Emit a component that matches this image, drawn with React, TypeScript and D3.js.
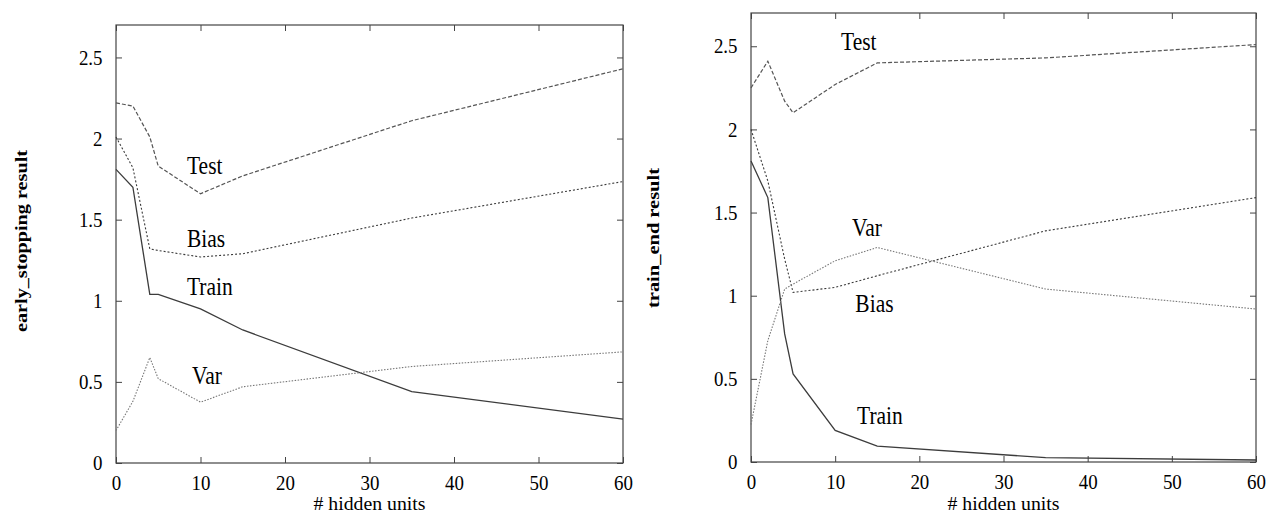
import { useEffect, useRef } from 'react'
import * as d3 from 'd3'

// x values shared by every curve
const hiddenUnits = [0, 2, 4, 5, 10, 15, 35, 60]
const xTicks = [0, 10, 20, 30, 40, 50, 60]
const yTicks = [0, 0.5, 1, 1.5, 2, 2.5]
const seriesNames = ['Test', 'Bias', 'Train', 'Var']

// left panel: early stopping
const earlyTest = [2.22, 2.2, 2.01, 1.83, 1.66, 1.77, 2.11, 2.43]
const earlyBias = [2.01, 1.82, 1.32, 1.31, 1.27, 1.29, 1.51, 1.735]
const earlyTrain = [1.81, 1.7, 1.04, 1.04, 0.95, 0.82, 0.44, 0.27]
const earlyVar = [0.2, 0.38, 0.65, 0.52, 0.375, 0.47, 0.595, 0.685]

// right panel: end of training
const trainEndTest = [2.25, 2.41, 2.17, 2.1, 2.27, 2.4, 2.43, 2.51]
const trainEndBias = [2.0, 1.69, 1.22, 1.02, 1.05, 1.12, 1.39, 1.59]
const trainEndTrain = [1.81, 1.59, 0.77, 0.53, 0.19, 0.096, 0.026, 0.012]
const trainEndVar = [0.225, 0.73, 1.04, 1.07, 1.21, 1.29, 1.04, 0.92]

// where the curve names sit, in data units (Test, Bias, Train, Var)
const earlyLabelAt = [[8.4, 1.78], [8.4, 1.33], [8.4, 1.035], [9, 0.49]]
const trainEndLabelAt = [[10.7, 2.48], [12.4, 0.9], [12.6, 0.23], [12, 1.36]]

const lineStyle = {
  Test: { stroke: '#555', dash: '4,2', width: 1.2 },
  Bias: { stroke: '#3a3a3a', dash: '2,2', width: 1.1 },
  Train: { stroke: '#3c3c3c', dash: null, width: 1.3 },
  Var: { stroke: '#777', dash: '1.5,1.5', width: 1.1 },
}

const panels = [
  {
    title: 'early_stopping result', titleX: 21, titleY: 241, titleLen: 182,
    left: 116, right: 623, top: 25, bottom: 463,
    series: [earlyTest, earlyBias, earlyTrain, earlyVar], labelAt: earlyLabelAt,
  },
  {
    title: 'train_end result', titleX: 653, titleY: 238, titleLen: 140,
    left: 751, right: 1256, top: 13, bottom: 462,
    series: [trainEndTest, trainEndBias, trainEndTrain, trainEndVar], labelAt: trainEndLabelAt,
  },
]

const W = 1266
const H = 519
const serif = "'Liberation Serif', 'Times New Roman', serif"

const App = () => {
  const ref = useRef<SVGSVGElement>(null)

  useEffect(() => {
    if (!ref.current) return
    const svg = d3.select(ref.current)
    svg.selectAll('*').remove()

    panels.forEach(p => {
      const x = d3.scaleLinear().domain([0, 60]).range([p.left, p.right])
      const y = d3.scaleLinear().domain([0, 2.7]).range([p.bottom, p.top])
      const g = svg.append('g')

      const styleAxis = (sel, labels) => {
        sel.select('.domain').remove()
        sel.attr('font-family', serif).attr('font-size', 21)
        sel.selectAll('line').attr('stroke', '#444')
        if (labels) sel.selectAll('text').attr('fill', '#000').attr('transform', 'scale(0.9,1)')
      }

      g.append('g')
        .attr('transform', `translate(0,${p.bottom})`)
        .call(d3.axisBottom(x).tickValues(xTicks).tickSize(-6).tickPadding(12).tickFormat(d => String(d)))
        .call(s => styleAxis(s, true))
      g.append('g')
        .attr('transform', `translate(0,${p.top})`)
        .call(d3.axisTop(x).tickValues(xTicks).tickSize(-6).tickFormat(() => ''))
        .call(s => styleAxis(s, false))
      g.append('g')
        .attr('transform', `translate(${p.left},0)`)
        .call(d3.axisLeft(y).tickValues(yTicks).tickSize(-6).tickPadding(15).tickFormat(d => String(d)))
        .call(s => styleAxis(s, true))
      g.append('g')
        .attr('transform', `translate(${p.right},0)`)
        .call(d3.axisRight(y).tickValues(yTicks).tickSize(-6).tickFormat(() => ''))
        .call(s => styleAxis(s, false))

      g.append('rect')
        .attr('x', p.left).attr('y', p.top)
        .attr('width', p.right - p.left).attr('height', p.bottom - p.top)
        .attr('fill', 'none').attr('stroke', '#444').attr('stroke-width', 1.2)

      const line = d3.line<number>()
        .x((d, i) => x(hiddenUnits[i]))
        .y(d => y(d))

      p.series.forEach((vals, k) => {
        const st = lineStyle[seriesNames[k]]
        g.append('path')
          .datum(vals)
          .attr('d', line)
          .attr('fill', 'none')
          .attr('stroke', st.stroke)
          .attr('stroke-width', st.width)
          .attr('stroke-dasharray', st.dash)
      })

      g.selectAll('.curve-label')
        .data(seriesNames).enter().append('text')
        .attr('class', 'curve-label')
        .attr('transform', (d, i) => `translate(${x(p.labelAt[i][0])},${y(p.labelAt[i][1])}) scale(0.86,1)`)
        .attr('font-family', serif)
        .attr('font-size', 25)
        .text(d => d)

      g.append('text')
        .attr('x', (p.left + p.right) / 2)
        .attr('y', 510)
        .attr('text-anchor', 'middle')
        .attr('font-family', serif)
        .attr('font-size', 19)
        .attr('textLength', 112)
        .attr('lengthAdjust', 'spacingAndGlyphs')
        .text('# hidden units')

      g.append('text')
        .attr('transform', `translate(${p.titleX},${p.titleY}) rotate(-90)`)
        .attr('text-anchor', 'middle')
        .attr('dy', '0.35em')
        .attr('font-family', serif)
        .attr('font-weight', 'bold')
        .attr('font-size', 16)
        .attr('textLength', p.titleLen)
        .attr('lengthAdjust', 'spacingAndGlyphs')
        .text(p.title)
    })
  }, [])

  return (
    <svg
      ref={ref}
      width={W}
      height={H}
      style={{ position: 'absolute', left: 0, top: 0, background: '#fff' }}
    />
  )
}

export default App
